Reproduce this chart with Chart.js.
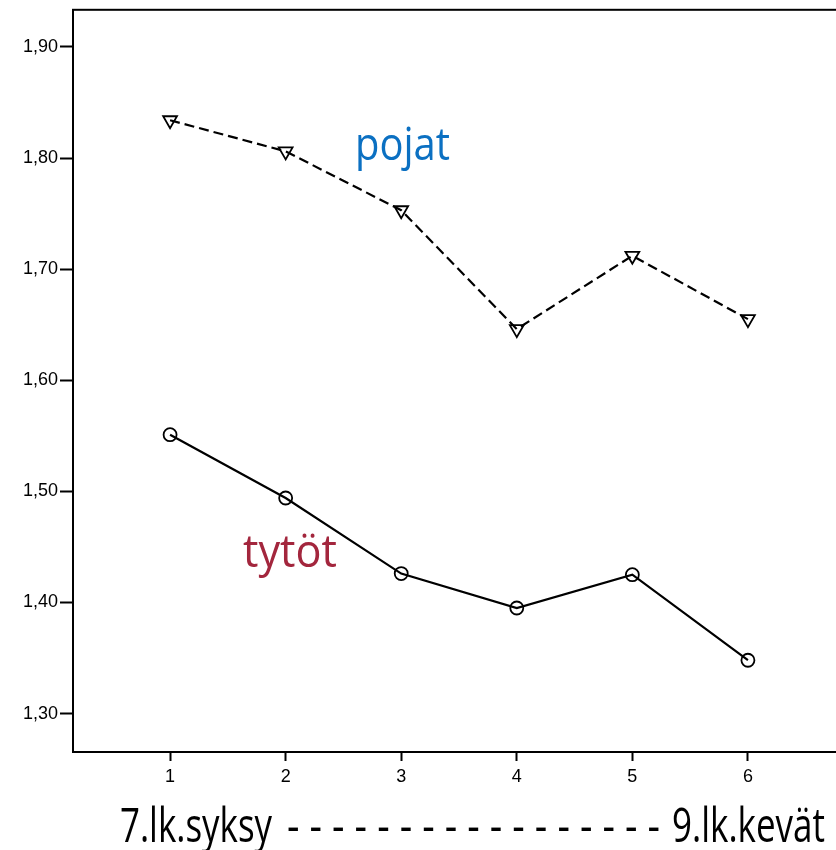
<!DOCTYPE html>
<html>
<head>
<meta charset="utf-8">
<script src="https://cdn.jsdelivr.net/npm/chart.js@4/dist/chart.umd.min.js"></script>
<style>
  html, body { margin: 0; padding: 0; background: #fff; overflow: hidden; }
  #wrap { width: 860px; height: 850px; }
</style>
</head>
<body>
<div id="wrap"><canvas id="chart"></canvas></div>
<script>
// Mittauskerrat ja keskiarvot
const kerrat = [1, 2, 3, 4, 5, 6];
const pojat = [1.834, 1.806, 1.753, 1.646, 1.712, 1.655];
const tytot = [1.551, 1.494, 1.426, 1.395, 1.425, 1.348];
const yTicks = [1.3, 1.4, 1.5, 1.6, 1.7, 1.8, 1.9];
const alku = "7.lk.syksy";
const viivat = "- - - - - - - - - - - - - - - - -";
const loppu = "9.lk.kevät";

// Kapeaa tekstiä: skaalataan vaakasuunnassa annettuun leveyteen
function fittedText(ctx, text, left, baseline, width, font) {
    ctx.save();
    ctx.font = font;
    ctx.textAlign = "left";
    ctx.textBaseline = "alphabetic";
    const w = ctx.measureText(text).width;
    ctx.translate(left, baseline);
    ctx.scale(width / w, 1);
    ctx.fillText(text, 0, 0);
    ctx.restore();
}

// Laatikko piirtoalueen ympärille + sarjojen nimet
const boxPlugin = {
    id: "box",
    afterDraw(chart) {
        const { ctx, chartArea: a } = chart;
        ctx.save();
        ctx.strokeStyle = "#000";
        ctx.lineWidth = 2;
        ctx.strokeRect(a.left, a.top, a.right - a.left, a.bottom - a.top);

        const f = "'Open Sans', sans-serif";
        ctx.fillStyle = "#0b70c2";
        fittedText(ctx, "pojat", 355, 160, 95, "46px " + f);
        ctx.fillStyle = "#a3263d";
        fittedText(ctx, "tytöt", 243, 567, 94, "46px " + f);

        ctx.fillStyle = "#000";
        fittedText(ctx, alku, 120, 842, 152, "48px " + f);
        fittedText(ctx, viivat, 287, 842, 373, "48px " + f);
        fittedText(ctx, loppu, 672, 842, 153, "48px " + f);
        ctx.restore();
    }
};

const chart = new Chart(document.getElementById("chart"), {
    type: "line",
    data: {
        datasets: [
            {
                label: "pojat",
                data: kerrat.map((k, i) => ({ x: k, y: pojat[i] })),
                borderColor: "#000",
                borderWidth: 2.2,
                borderDash: [10, 5],
                pointStyle: "triangle",
                rotation: 180,
                pointRadius: 8,
                pointBorderWidth: 1.8,
                pointBorderColor: "#000",
                pointBackgroundColor: "rgba(0,0,0,0)",
                tension: 0
            },
            {
                label: "tytöt",
                data: kerrat.map((k, i) => ({ x: k, y: tytot[i] })),
                borderColor: "#000",
                borderWidth: 2.2,
                pointStyle: "circle",
                pointRadius: 6.5,
                pointBorderWidth: 1.8,
                pointBorderColor: "#000",
                pointBackgroundColor: "rgba(0,0,0,0)",
                tension: 0
            }
        ]
    },
    options: {
        responsive: true,
        maintainAspectRatio: false,
        animation: false,
        layout: { padding: { top: 2, right: 15, left: 0, bottom: 0 } },
        plugins: {
            legend: { display: false },
            tooltip: { enabled: false }
        },
        scales: {
            x: {
                type: "linear",
                min: 0.16,
                max: 6.84,
                afterBuildTicks: (s) => { s.ticks = kerrat.map(v => ({ value: v })); },
                afterFit: (s) => { s.height = 98; s.paddingLeft = 0; s.paddingRight = 0; },
                border: { display: false },
                grid: { drawOnChartArea: false, drawTicks: true, tickLength: 9, tickWidth: 2, tickColor: "#000" },
                ticks: {
                    color: "#000",
                    padding: 5,
                    font: { family: "'Liberation Sans', Arial, sans-serif", size: 18 },
                    callback: (v) => String(v)
                }
            },
            y: {
                min: 1.2654,
                max: 1.9334,
                afterBuildTicks: (s) => { s.ticks = yTicks.map(v => ({ value: v })); },
                afterFit: (s) => { s.width = 73; s.paddingTop = 0; s.paddingBottom = 0; },
                border: { display: false },
                grid: { drawOnChartArea: false, drawTicks: true, tickLength: 13, tickWidth: 2, tickColor: "#000" },
                ticks: {
                    color: "#000",
                    padding: 2,
                    font: { family: "'Liberation Sans', Arial, sans-serif", size: 18 },
                    callback: (v) => v.toFixed(2).replace(".", ",")
                }
            }
        }
    },
    plugins: [boxPlugin]
});
</script>
</body>
</html>
